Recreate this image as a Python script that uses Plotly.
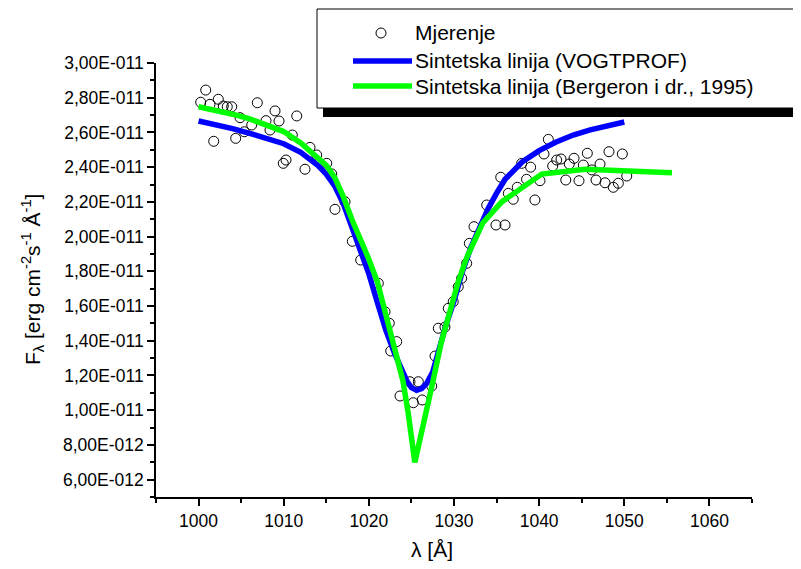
import numpy as np
import plotly.graph_objects as go

### measured points (wavelength in Angstrom, flux in units of 1E-12)
mjerenje_lam = [1000.25, 1000.84, 1001.34, 1001.78, 1002.32, 1002.9, 1003.37, 1003.89, 1004.36, 1004.87,
                1005.37, 1006.24, 1006.9, 1007.92, 1008.39, 1008.98, 1009.45, 1009.95, 1010.27, 1011.01,
                1011.53, 1012.5, 1013.09, 1013.87, 1015.05, 1015.64, 1016.02, 1017.2, 1018.06, 1019.04,
                1021.11, 1021.9, 1022.4, 1022.57, 1023.27, 1023.66, 1024.83, 1025.22, 1025.81, 1026.27,
                1027.38, 1027.77, 1028.16, 1028.94, 1029.33, 1029.91, 1030.5, 1030.9, 1031.49, 1031.8,
                1032.35, 1033.84, 1034.93, 1035.49, 1035.99, 1036.38, 1036.96, 1037.43, 1037.95, 1038.52,
                1039.0, 1039.5, 1040.1, 1040.57, 1041.08, 1041.59, 1042.06, 1042.57, 1043.13, 1043.54,
                1044.1, 1044.68, 1045.19, 1045.66, 1046.18, 1046.68, 1047.15, 1047.74, 1048.2, 1048.71,
                1049.3, 1049.77, 1050.29]
mjerenje_flux = [27.74, 28.44, 27.62, 25.49, 27.91, 27.52, 27.48, 27.48, 25.66, 26.85,
                 26.04, 26.43, 27.71, 26.68, 26.14, 27.24, 26.66, 24.22, 24.41, 25.85,
                 26.95, 23.88, 25.14, 24.70, 24.22, 23.61, 21.57, 22.01, 19.73, 18.65,
                 17.31, 15.67, 15.01, 13.41, 13.95, 10.82, 11.64, 10.43, 11.64, 10.59,
                 11.39, 13.12, 14.72, 14.79, 15.87, 16.25, 17.11, 17.6, 18.46, 19.61,
                 20.57, 21.82, 20.67, 23.42, 20.67, 22.49, 22.15, 22.84, 24.22, 23.3,
                 24.0, 22.11, 23.22, 24.76, 25.6, 24.07, 24.41, 24.47, 23.26, 24.18,
                 24.51, 23.22, 24.12, 24.8, 23.84, 23.26, 24.18, 23.1, 24.89, 22.84,
                 23.07, 24.76, 23.49]

### synthetic line (VOGTPROF)
vogt_lam = [1000, 1002, 1004, 1006, 1008, 1010, 1012, 1013, 1014, 1015, 1016, 1017, 1018, 1019, 1020,
            1021, 1022, 1023, 1024, 1024.5, 1025, 1025.6, 1026.2, 1026.8, 1027.5, 1028, 1029, 1030,
            1031, 1032, 1033, 1034, 1035, 1036, 1038, 1040, 1042, 1044, 1046, 1048, 1050]
vogt_flux = [26.66, 26.48, 26.22, 25.95, 25.68, 25.35, 24.85, 24.5, 24.1, 23.6, 22.9, 21.9, 20.6, 19.3, 17.85,
             16.2, 14.6, 13.3, 12.1, 11.65, 11.3, 11.15, 11.25, 11.55, 12.2, 13.1, 14.8, 16.3,
             18.0, 19.4, 20.6, 21.6, 22.5, 23.3, 24.3, 24.95, 25.45, 25.85, 26.15, 26.4, 26.6]

### synthetic line (Bergeron i dr., 1995)
berg_lam = [1000, 1002, 1004, 1006, 1008, 1010, 1012, 1013, 1014, 1015, 1016, 1017, 1018, 1019, 1020,
            1021, 1022, 1023, 1024, 1024.6, 1025.4, 1026.6, 1027.5, 1028.5, 1029.5, 1030.5, 1031.5,
            1032.5, 1033.4, 1035.6, 1040.3, 1045.4, 1055.6]
berg_flux = [27.48, 27.3, 27.05, 26.78, 26.45, 26.05, 25.4, 25.0, 24.6, 24.1, 23.4, 22.3, 21.0, 19.9, 18.7,
             17.4, 15.6, 13.6, 11.7, 9.9, 7.0, 9.5, 11.6, 13.9, 15.8, 17.4, 18.8,
             19.9, 20.8, 22.0, 23.6, 23.88, 23.68]

### axis ticks
x_ticks = [1000, 1010, 1020, 1030, 1040, 1050, 1060]
y_ticks = [6, 8, 10, 12, 14, 16, 18, 20, 22, 24, 26, 28, 30]
y_ticktext = ["6,00E-012", "8,00E-012", "1,00E-011", "1,20E-011", "1,40E-011", "1,60E-011", "1,80E-011",
              "2,00E-011", "2,20E-011", "2,40E-011", "2,60E-011", "2,80E-011", "3,00E-011"]

SCALE = 1e-12
FONT = "Arial, Liberation Sans, sans-serif"
TICK_SIZE = 17.5

fig = go.Figure()

fig.add_trace(go.Scatter(
    x=mjerenje_lam, y=np.array(mjerenje_flux) * SCALE, mode="markers", name="Mjerenje",
    marker=dict(symbol="circle-open", size=10, color="black", line=dict(width=1, color="black"))
))
fig.add_trace(go.Scatter(
    x=vogt_lam, y=np.array(vogt_flux) * SCALE, mode="lines", name="Sintetska linija (VOGTPROF)",
    line=dict(color="#0000FF", width=5.5)
))
fig.add_trace(go.Scatter(
    x=berg_lam, y=np.array(berg_flux) * SCALE, mode="lines", name="Sintetska linija (Bergeron i dr., 1995)",
    line=dict(color="#00FF00", width=5.5)
))

# plot area on screen in pixels: x 156..752, y 63..497
# (page body has an 8px margin, so the figure itself starts at 8,8)
OFF = 8
L, R, T, B = 156, 752, 63, 497
W, H = 801, 569
def px(x):
    return (x - L) / (R - L)
def py(y):
    return (B - y) / (B - T)

shapes = [
    # legend shadow + box
    dict(type="rect", xref="paper", yref="paper", x0=px(323), x1=1.6, y0=py(117), y1=py(108),
         fillcolor="black", line=dict(width=0), layer="above"),
    dict(type="rect", xref="paper", yref="paper", x0=px(317), x1=1.6, y0=py(108), y1=py(9),
         fillcolor="white", line=dict(color="black", width=1), layer="above"),
    dict(type="line", xref="paper", yref="paper", x0=px(353), x1=px(412), y0=py(61), y1=py(61),
         line=dict(color="#0000FF", width=5.5), layer="above"),
    dict(type="line", xref="paper", yref="paper", x0=px(353), x1=px(412), y0=py(86), y1=py(86),
         line=dict(color="#00FF00", width=5.5), layer="above"),
    dict(type="circle", xref="paper", yref="paper", xsizemode="pixel", ysizemode="pixel",
         xanchor=px(381), yanchor=py(33), x0=-5, x1=5, y0=-5, y1=5,
         line=dict(color="black", width=1), layer="above"),
]

legend_items = [("Mjerenje", 33), ("Sintetska linija (VOGTPROF)", 61), ("Sintetska linija (Bergeron i dr., 1995)", 86)]
annotations = []
for txt, yy in legend_items:
    annotations.append(dict(text=txt, xref="paper", yref="paper", x=px(413), y=py(yy),
                            xanchor="left", yanchor="middle", showarrow=False,
                            font=dict(family=FONT, size=21, color="black")))

# axis titles
annotations.append(dict(text="λ [Å]", xref="paper", yref="paper", x=px(432), y=py(549),
                        xanchor="center", yanchor="middle", showarrow=False,
                        font=dict(family=FONT, size=21, color="black")))
annotations.append(dict(text="F<sub>λ</sub> [erg cm<sup>-2</sup>s<sup>-1</sup> Å<sup>-1</sup>]",
                        xref="paper", yref="paper", x=px(32), y=0.5, textangle=-90,
                        xanchor="center", yanchor="middle", showarrow=False,
                        font=dict(family=FONT, size=21, color="black")))

fig.update_layout(
    width=W, height=H,
    margin=dict(l=L - OFF, r=W - (R - OFF), t=T - OFF, b=H - (B - OFF)),
    paper_bgcolor="white", plot_bgcolor="white",
    showlegend=False,
    shapes=shapes, annotations=annotations,
    font=dict(family=FONT, color="black", size=TICK_SIZE),
    xaxis=dict(
        range=[995, 1065], tickvals=x_ticks, showgrid=False, zeroline=False,
        showline=True, linecolor="black", linewidth=1.6,
        ticks="outside", ticklen=7, tickwidth=1.5, tickcolor="black",
        tickfont=dict(family=FONT, size=TICK_SIZE, color="black"),
        minor=dict(tickmode="linear", tick0=995, dtick=5, ticks="outside", ticklen=4,
                   tickwidth=1.5, tickcolor="black", showgrid=False),
    ),
    yaxis=dict(
        range=[5 * SCALE, 30 * SCALE], tickvals=[v * SCALE for v in y_ticks], ticktext=y_ticktext,
        showgrid=False, zeroline=False,
        showline=True, linecolor="black", linewidth=1.6,
        ticks="outside", ticklen=7, tickwidth=1.5, tickcolor="black",
        tickfont=dict(family=FONT, size=TICK_SIZE, color="black"),
        minor=dict(tickmode="linear", tick0=5 * SCALE, dtick=1 * SCALE, ticks="outside", ticklen=4,
                   tickwidth=1.5, tickcolor="black", showgrid=False),
    ),
)

fig.write_html("out.html")
